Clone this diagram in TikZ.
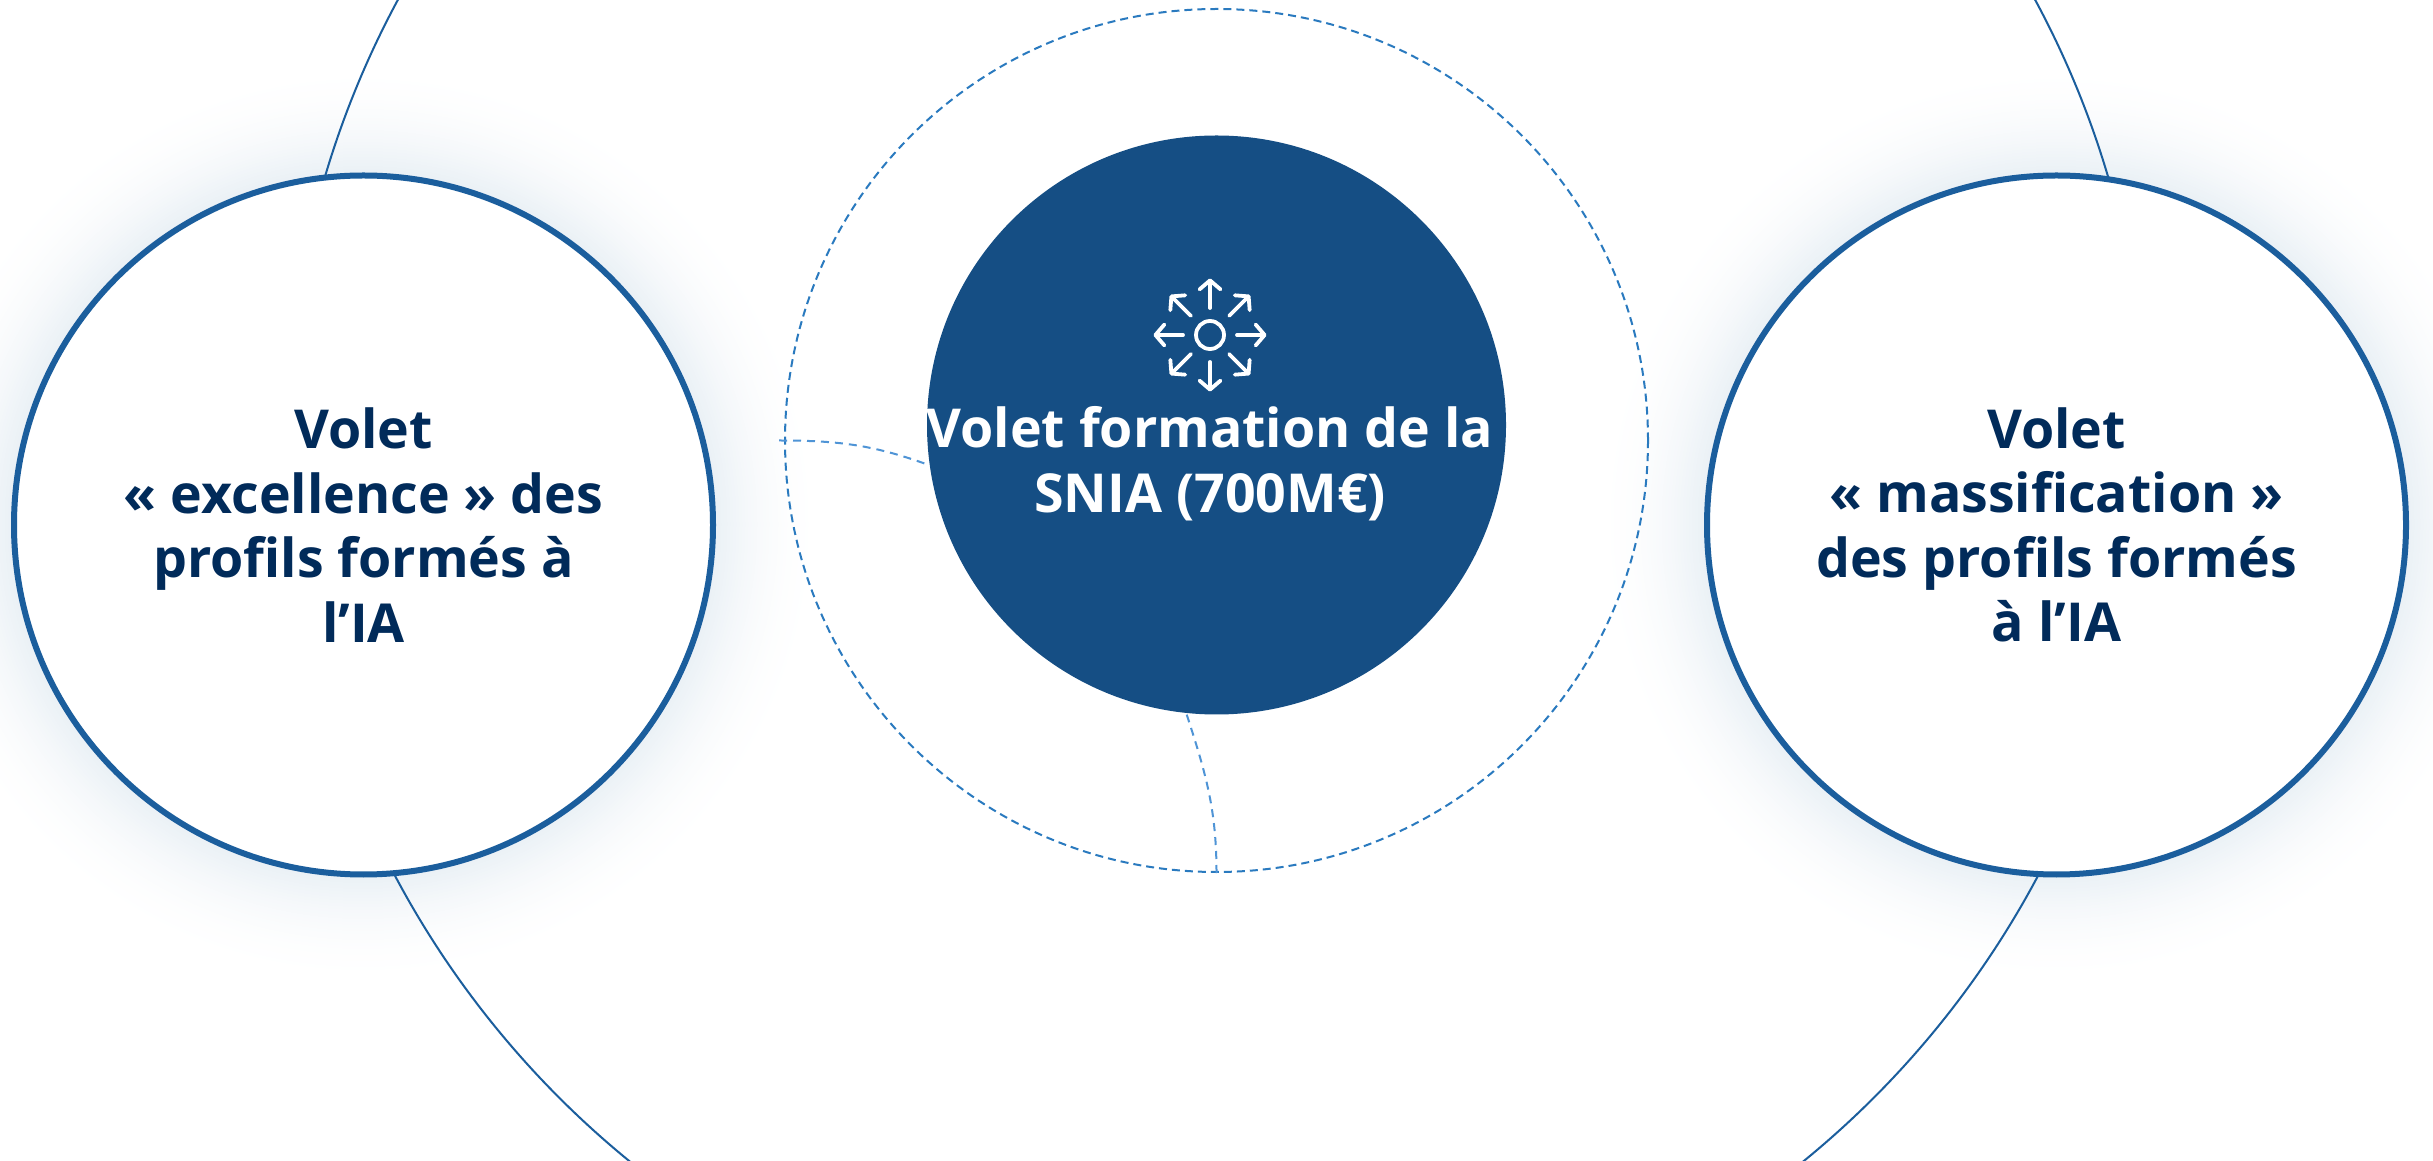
\documentclass[tikz,border=0pt]{standalone}
\usepackage{fontspec}
\setmainfont{Open Sans}
\usetikzlibrary{arrows.meta}
\definecolor{hubBlue}{HTML}{154E84}
\definecolor{sideBlue}{HTML}{1B5E9D}
\definecolor{inkBlue}{HTML}{012B5A}
\definecolor{ringBlue}{HTML}{2A7ABF}
\definecolor{spurBlue}{HTML}{4F94D6}
\definecolor{glowBlue}{HTML}{EAF0F5}
\tikzset{
  sideCircle/.style = {shape = circle, minimum size = 699pt, inner sep = 0pt, draw = sideBlue, line width = 6pt, fill = white, text = inkBlue, align = center, font = \fontsize{53.7}{64.5}\selectfont\bfseries},
  hubCircle/.style = {shape = circle, minimum size = 579pt, inner sep = 0pt, fill = hubBlue},
  hubLabel/.style = {text = white, align = center, inner sep = 0pt, font = \fontsize{53.7}{64.5}\selectfont\bfseries},
  bigRing/.style = {shape = circle, minimum size = 1859pt, inner sep = 0pt, draw = sideBlue, line width = 2pt},
  dashRing/.style = {shape = circle, minimum size = 863pt, inner sep = 0pt, draw = ringBlue, line width = 2pt, dash pattern = on 8pt off 5pt},
  spurLine/.style = {draw = spurBlue, line width = 2pt, dash pattern = on 8pt off 6pt},
  iconLine/.style = {draw = white, line width = 3.8pt, line cap = round}
}
\begin{document}
\begin{tikzpicture}[x = 1pt, y = 1pt]
\useasboundingbox (0,0) rectangle (2433,1160);
\clip (0,0) rectangle (2433,1160);
\fill[white] (0,0) rectangle (2433,1160);
\foreach \cx in {363,2056}
  \foreach \i in {0,...,36} {
    \pgfmathsetmacro{\glowMix}{100*(\i/36)^2}
    \fill[glowBlue!\glowMix!white] (\cx,635.5) circle ({460 - 3*\i});
  }
\node[bigRing] (big) at (1216.5,719.5) {};
\node[dashRing] (ring) at (1216.5,719.5) {};
\node[sideCircle] (excellence) at (363.5,635) {Volet\\« excellence » des\\profils formés à\\l’IA};
\node[sideCircle] (massification) at (2056.5,635) {Volet\\« massification »\\des profils formés\\à l’IA};
\node[hubCircle] (hub) at (1216.5,735) {};
\node[hubLabel] (hubText) at (1210,696.5) {Volet formation de la\\SNIA (700M€)};
\coordinate (spurStart) at ([xshift = -5pt]ring.west);
\draw[spurLine] (spurStart) to[out = 0, in = 160] (hub.188);
\draw[spurLine] (ring.south) to[out = 90, in = -72] (hub.264);
\node[shape = circle, minimum size = 28pt, inner sep = 0pt, draw = white, line width = 3.8pt] (icon) at (1210,825) {};
\foreach \a in {0,45,...,315}
  \draw[iconLine, -{Straight Barb[length = 9pt, width = 21pt, round, line width = 3.8pt]}] ([shift = {(\a:27)}]icon.center) -- ([shift = {(\a:56.5)}]icon.center);
\end{tikzpicture}
\end{document}
